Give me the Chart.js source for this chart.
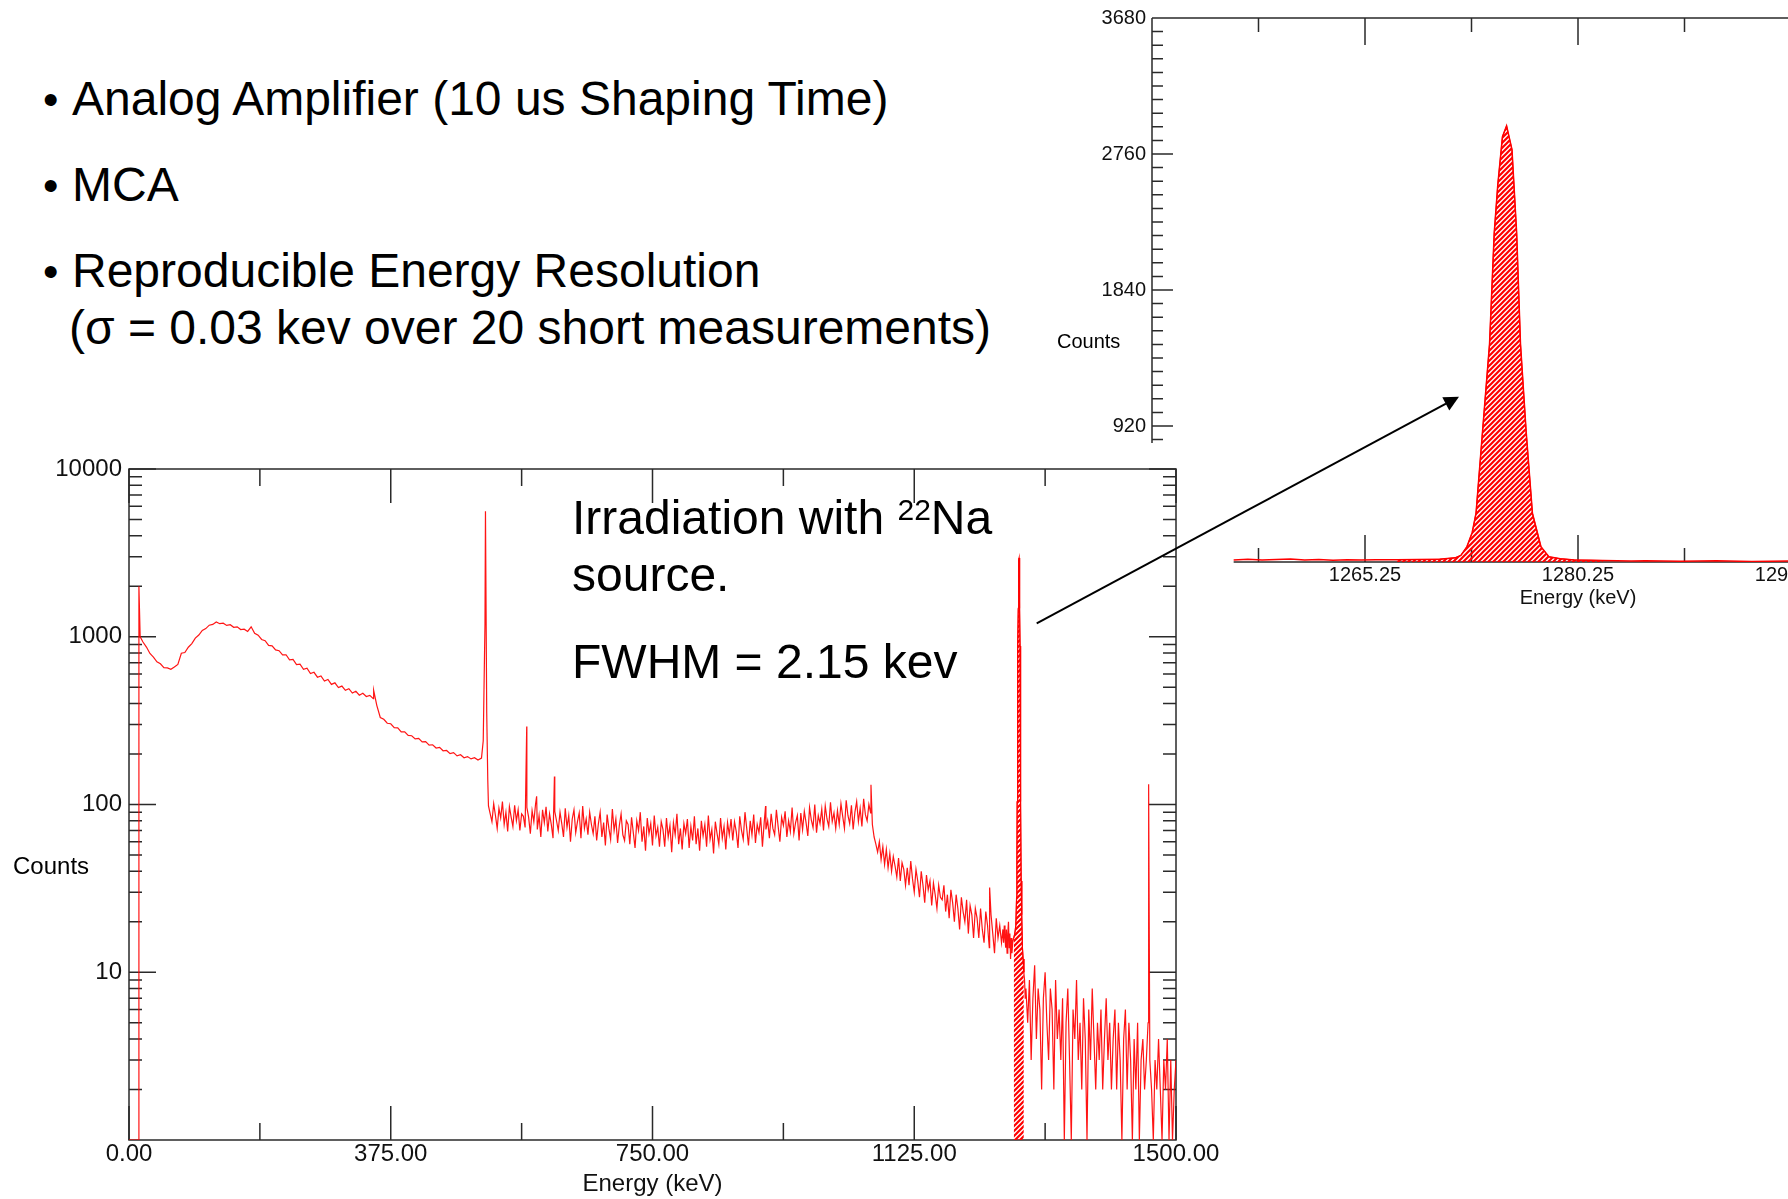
<!DOCTYPE html>
<html lang="en">
<head>
<meta charset="utf-8">
<title>22Na spectrum – MCA</title>
<script src="https://cdn.jsdelivr.net/npm/chart.js@4.4.1/dist/chart.umd.min.js"></script>
<style>
  html, body { margin:0; padding:0; background:#fff; }
  body { position:relative; width:1788px; height:1199px; overflow:hidden; font-family:'Liberation Sans', Arial, sans-serif; color:#000; }
  canvas { position:absolute; }
  .t { position:absolute; white-space:nowrap; line-height:1; }
  .big { font-size:48px; }
  .bul { display:inline-block; width:29px; font-size:44px; }
  svg { position:absolute; left:0; top:0; }
</style>
</head>
<body>
<canvas id="mainChart" width="1260" height="759" style="left:0;top:440px"></canvas>
<canvas id="insetChart" width="1000" height="620" style="left:1040px;top:0"></canvas>

<div class="t big" style="left:43px;top:75px"><span class="bul">•</span>Analog Amplifier (10 us Shaping Time)</div>
<div class="t big" style="left:43px;top:161px"><span class="bul">•</span>MCA</div>
<div class="t big" style="left:43px;top:247px"><span class="bul">•</span>Reproducible Energy Resolution</div>
<div class="t big" style="left:69px;top:304px">(σ = 0.03 kev over 20 short measurements)</div>

<div class="t big" style="left:572px;top:494px">Irradiation with <span style="font-size:30px;position:relative;top:-14px">22</span>Na</div>
<div class="t big" style="left:572px;top:551px">source.</div>
<div class="t big" style="left:572px;top:638px">FWHM = 2.15 kev</div>

<div class="t" style="left:13px;top:854px;font-size:24px">Counts</div>
<div class="t" style="left:1057px;top:331px;font-size:20px">Counts</div>

<svg width="1788" height="1199">
  <line x1="1036.7" y1="623.3" x2="1446" y2="403.7" stroke="#000" stroke-width="2"/>
  <polygon points="1459,396.7 1442.3,397.2 1449.3,410.4" fill="#000"/>
</svg>

<script>
// ---------------- DATA ----------------
// Low-energy part of the spectrum, 5 keV bins from 20 keV to 510 keV
const lowEnergyStart = 20;
const lowEnergyStep = 5;
const lowCounts = [
  930, 868, 795, 757, 709, 690, 655, 652, 640, 660,
  684, 797, 806, 866, 910, 981, 1024, 1090, 1118, 1172,
  1185, 1226, 1196, 1205, 1168, 1180, 1138, 1145, 1104, 1110,
  1075, 1146, 1050, 1022, 963, 947, 889, 883, 835, 826,
  779, 781, 728, 733, 682, 686, 640, 650, 604, 614,
  574, 584, 545, 556, 520, 531, 498, 508, 479, 490,
  462, 473, 448, 460, 440, 447, 428, 390, 330, 322,
  305, 303, 287, 286, 271, 271, 258, 257, 246, 248,
  236, 237, 226, 227, 217, 219, 209, 210, 201, 204,
  195, 198, 190, 193, 187, 190, 184, 189, 1200
];

// Middle part (plateau and Compton edge), 2.5 keV bins from 515 keV to 1250 keV
const midEnergyStart = 515;
const midEnergyStep = 2.5;
const midCounts = [
  98, 88, 79, 101, 86, 72, 95, 83, 104, 76, 90, 69, 97, 84, 74, 99, 80, 93, 70, 88,
  85, 73, 96, 84, 67, 92, 79, 101, 71, 86, 64, 93, 78, 97, 69, 88, 76, 63, 91, 80,
  70, 90, 77, 64, 95, 73, 86, 60, 82, 93, 68, 79, 89, 63, 98, 72, 82, 66, 90, 76,
  67, 85, 61, 77, 90, 64, 78, 57, 87, 72, 62, 94, 70, 82, 59, 75, 88, 66, 61, 80,
  76, 58, 84, 68, 55, 80, 70, 90, 60, 74, 53, 83, 67, 77, 57, 86, 65, 73, 56, 79,
  71, 56, 83, 64, 75, 52, 78, 66, 88, 58, 72, 54, 77, 67, 82, 55, 74, 61, 85, 58,
  72, 53, 80, 65, 76, 56, 86, 62, 71, 51, 79, 67, 58, 83, 63, 74, 54, 78, 66, 82,
  61, 79, 69, 55, 85, 70, 62, 90, 72, 57, 80, 66, 87, 59, 76, 68, 84, 56, 78, 71,
  80, 63, 88, 72, 66, 93, 74, 60, 84, 75, 91, 64, 80, 69, 96, 67, 78, 86, 61, 89,
  71, 91, 78, 65, 96, 81, 73, 100, 68, 86, 77, 94, 70, 98, 82, 74, 103, 79, 89, 72,
  92, 76, 101, 85, 72, 106, 86, 77, 99, 71, 90, 104, 79, 95, 74, 108, 87, 80, 100, 89,
  76, 64, 58, 52, 60, 47, 56, 44, 54, 42, 51, 40, 49, 43, 37, 48, 35, 45, 41, 33,
  42, 33, 46, 36, 30, 41, 35, 28, 40, 33, 26, 38, 31, 35, 25, 34, 29, 24, 33, 28,
  27, 33, 23, 29, 21, 31, 26, 20, 29, 24, 18, 28, 23, 20, 27, 17, 25, 22, 16, 24,
  21, 16, 24, 18, 15, 23, 19, 14, 22, 17, 13, 21, 16, 19, 15
];

// Narrow lines and the start of the spectrum (keV, counts)
const lineEnergy = [0, 13.5, 14.2, 16, 350.5, 507.5, 510.7, 512.5, 514, 569.8, 584, 609.5, 912, 1063, 1233, 1460.8];
const lineCounts = [1, 1, 2000, 1000, 480, 240, 5600, 350, 140, 292, 112, 147, 98, 131, 32, 132];

// 1274 keV full-energy peak region (keV, counts)
const peakEnergy = [1252, 1253, 1254, 1255, 1256, 1257, 1258, 1259, 1260, 1261, 1262, 1263, 1264, 1265, 1266,
  1267.5, 1269, 1270.5, 1271.6, 1272.0, 1272.43, 1272.8, 1273.07, 1273.5, 1274.02,
  1274.35, 1274.6, 1274.93, 1275.22, 1275.6, 1275.93, 1276.2, 1276.6, 1277.04, 1277.64,
  1278.2, 1279, 1280, 1281, 1282, 1283, 1284];
const peakCounts = [18, 15, 19, 16, 14, 18, 13, 17, 20, 14, 17, 12, 16, 13, 15,
  16, 17, 19, 28, 45, 104, 200, 331, 850, 1475,
  2225, 2550, 2877, 2950, 2790, 2225, 1475, 880, 331, 104,
  35, 22, 14, 12, 10, 9, 7];

// High-energy tail, 2.5 keV bins from 1285 keV to 1500 keV
const tailEnergyStart = 1285;
const tailEnergyStep = 2.5;
const tailCounts = [
  8, 5, 9, 3, 7, 11, 4, 8, 6, 2,
  7, 10, 5, 3, 8, 6, 2, 9, 4, 6,
  3, 7, 1, 5, 8, 3, 1, 6, 4, 9,
  3, 5, 2, 7, 4, 1, 6, 3, 8, 4,
  2, 5, 3, 6, 2, 4, 7, 3, 5, 2,
  4, 6, 2, 5, 3, 1, 4, 6, 2, 5,
  3, 1, 4, 2, 5, 1, 3, 4, 2, 3,
  5, 3, 2, 1, 3, 2, 4, 2, 1, 3,
  2, 4, 1, 3, 1, 2, 3
];

// Hatched region of interest
const roiStart = 1267.5;
const roiEnd = 1282;

// Axis ticks
const xTickValues = [0, 375, 750, 1125, 1500];
const xTickLabels = ['0.00', '375.00', '750.00', '1125.00', '1500.00'];
const xMinorTicks = [187.5, 562.5, 937.5, 1312.5];
const yTickValues = [10, 100, 1000, 10000];
const yTickLabels = ['10', '100', '1000', '10000'];

const insetXTickValues = [1265.25, 1280.25, 1295.25];
const insetXTickLabels = ['1265.25', '1280.25', '1295.25'];
const insetXMinorTicks = [1257.75, 1272.75, 1287.75, 1302.75];
const insetYTickValues = [920, 1840, 2760, 3680];
const insetYTickLabels = ['920', '1840', '2760', '3680'];
const insetYMinorStep = 92;
const insetLineStart = 1256;
const insetLineEnd = 1312;

// ---------------- BUILD ----------------
Chart.defaults.font.family = "'Liberation Sans', Arial, sans-serif";
Chart.defaults.color = '#111';
Chart.defaults.animation = false;

function binPoints(start, step, counts) { return counts.map((c, i) => ({ x: start + i * step, y: c })); }
function pairPoints(es, cs) { return es.map((e, i) => ({ x: e, y: cs[i] })); }

const spectrum = [
  ...pairPoints(lineEnergy, lineCounts),
  ...binPoints(lowEnergyStart, lowEnergyStep, lowCounts),
  ...binPoints(midEnergyStart, midEnergyStep, midCounts),
  ...pairPoints(peakEnergy, peakCounts),
  ...binPoints(tailEnergyStart, tailEnergyStep, tailCounts)
].sort((a, b) => a.x - b.x);
const roi = pairPoints(peakEnergy, peakCounts).filter(p => p.x >= roiStart && p.x <= roiEnd);
const insetLine = spectrum.filter(p => p.x >= insetLineStart && p.x <= insetLineEnd);

function makeHatch(color, size, lw) {
  const c = document.createElement('canvas');
  c.width = size; c.height = size;
  const g = c.getContext('2d');
  g.strokeStyle = color; g.lineWidth = lw;
  g.beginPath();
  g.moveTo(-1, size + 1); g.lineTo(size + 1, -1);
  g.moveTo(-size / 2 - 1, size / 2 + 1); g.lineTo(size / 2 + 1, -size / 2 - 1);
  g.moveTo(size / 2 - 1, size * 1.5 + 1); g.lineTo(size * 1.5 + 1, size / 2 - 1);
  g.stroke();
  return g.createPattern(c, 'repeat');
}
const hatch = makeHatch('#ff0000', 5, 2.2);

const AXIS = '#2a2a2a';
function strokeSegs(ctx, segs) {
  ctx.beginPath();
  for (const s of segs) { ctx.moveTo(s[0], s[1]); ctx.lineTo(s[2], s[3]); }
  ctx.stroke();
}

const mainFrame = {
  id: 'mainFrame',
  beforeDatasetsDraw(chart) {
    const { ctx, chartArea: a, scales: { x, y } } = chart;
    const segs = [];
    for (const v of yTickValues) {
      const p = y.getPixelForValue(v);
      segs.push([a.left, p, a.left + 27, p], [a.right, p, a.right - 27, p]);
    }
    for (const d of [1, 10, 100, 1000]) {
      for (let m = 2; m <= 9; m++) {
        const p = y.getPixelForValue(m * d);
        segs.push([a.left, p, a.left + 13, p], [a.right, p, a.right - 13, p]);
      }
    }
    for (const v of xTickValues) {
      const p = x.getPixelForValue(v);
      segs.push([p, a.bottom, p, a.bottom - 34], [p, a.top, p, a.top + 34]);
    }
    for (const v of xMinorTicks) {
      const p = x.getPixelForValue(v);
      segs.push([p, a.bottom, p, a.bottom - 17], [p, a.top, p, a.top + 17]);
    }
    ctx.save();
    ctx.strokeStyle = AXIS; ctx.lineWidth = 1.5;
    strokeSegs(ctx, segs);
    ctx.strokeRect(a.left, a.top, a.right - a.left, a.bottom - a.top);
    ctx.restore();
  }
};

const insetFrame = {
  id: 'insetFrame',
  beforeDatasetsDraw(chart) {
    const { ctx, chartArea: a, scales: { x, y } } = chart;
    const yCut = 443;                      // the pasted inset is cropped here
    const xCut = x.getPixelForValue(insetLineStart);
    const segs = [
      [a.left, a.top, a.left, yCut],
      [a.left, a.top, a.right, a.top],
      [xCut, a.bottom, a.right, a.bottom]
    ];
    for (let k = 1; k * insetYMinorStep < 3680; k++) {
      const v = k * insetYMinorStep;
      const p = y.getPixelForValue(v);
      if (p > yCut) continue;
      const len = (k % 10 === 0) ? 21 : 11;
      segs.push([a.left, p, a.left + len, p]);
    }
    const all = insetXTickValues.map(v => [v, 27]).concat(insetXMinorTicks.map(v => [v, 14]));
    for (const [v, len] of all) {
      const p = x.getPixelForValue(v);
      segs.push([p, a.top, p, a.top + len]);
      if (p >= xCut) segs.push([p, a.bottom, p, a.bottom - len]);
    }
    ctx.save();
    ctx.strokeStyle = AXIS; ctx.lineWidth = 1.5;
    strokeSegs(ctx, segs);
    ctx.restore();
  }
};

new Chart(document.getElementById('mainChart'), {
  type: 'line',
  data: {
    datasets: [
      { data: roi, borderColor: '#ff0000', borderWidth: 1, backgroundColor: hatch, fill: 'start', pointRadius: 0, order: 2 },
      { data: spectrum, borderColor: 'rgba(255,0,0,0.92)', borderWidth: 1.2, pointRadius: 0, fill: false, order: 1 }
    ]
  },
  options: {
    responsive: false, animation: false, events: [],
    layout: { padding: { left: 0, top: 29, right: 84, bottom: 0 } },
    plugins: { legend: { display: false }, tooltip: { enabled: false } },
    scales: {
      x: {
        type: 'linear', min: 0, max: 1500,
        afterBuildTicks: s => { s.ticks = xTickValues.map(v => ({ value: v })); },
        afterFit: s => { s.height = 59; },
        ticks: { autoSkip: false, maxRotation: 0, padding: 0, font: { size: 24 }, color: '#111', callback: (v, i) => xTickLabels[i] },
        grid: { display: false, drawTicks: false }, border: { display: false },
        title: { display: true, text: 'Energy (keV)', font: { size: 24 }, color: '#111', padding: { top: 0, bottom: 0 } }
      },
      y: {
        type: 'logarithmic', min: 1, max: 10000,
        afterBuildTicks: s => { s.ticks = yTickValues.map(v => ({ value: v })); },
        afterFit: s => { s.width = 129; },
        ticks: { autoSkip: false, padding: 7, font: { size: 24 }, color: '#111', callback: (v, i) => yTickLabels[i] },
        grid: { display: false, drawTicks: false }, border: { display: false }
      }
    }
  },
  plugins: [mainFrame]
});

new Chart(document.getElementById('insetChart'), {
  type: 'line',
  data: {
    datasets: [
      { data: roi, borderColor: '#ff0000', borderWidth: 1, backgroundColor: hatch, fill: 'start', pointRadius: 0, order: 2 },
      { data: insetLine, borderColor: '#ff0000', borderWidth: 1.5, pointRadius: 0, fill: false, order: 1 }
    ]
  },
  options: {
    responsive: false, animation: false, events: [],
    layout: { padding: { left: 0, top: 18, right: 36, bottom: 0 } },
    plugins: { legend: { display: false }, tooltip: { enabled: false } },
    scales: {
      x: {
        type: 'linear', min: 1250.25, max: 1310.25,
        afterBuildTicks: s => { s.ticks = insetXTickValues.map(v => ({ value: v })); },
        afterFit: s => { s.height = 58; },
        ticks: { autoSkip: false, maxRotation: 0, padding: 1, font: { size: 20 }, color: '#111', callback: (v, i) => insetXTickLabels[i] },
        grid: { display: false, drawTicks: false }, border: { display: false },
        title: { display: true, text: 'Energy (keV)', font: { size: 20 }, color: '#111', padding: { top: 0, bottom: 10 } }
      },
      y: {
        type: 'linear', min: 0, max: 3680,
        afterBuildTicks: s => { s.ticks = insetYTickValues.map(v => ({ value: v })); },
        afterFit: s => { s.width = 112; },
        ticks: { autoSkip: false, padding: 6, font: { size: 20 }, color: '#111', callback: (v, i) => insetYTickLabels[i] },
        grid: { display: false, drawTicks: false }, border: { display: false }
      }
    }
  },
  plugins: [insetFrame]
});
</script>
</body>
</html>
